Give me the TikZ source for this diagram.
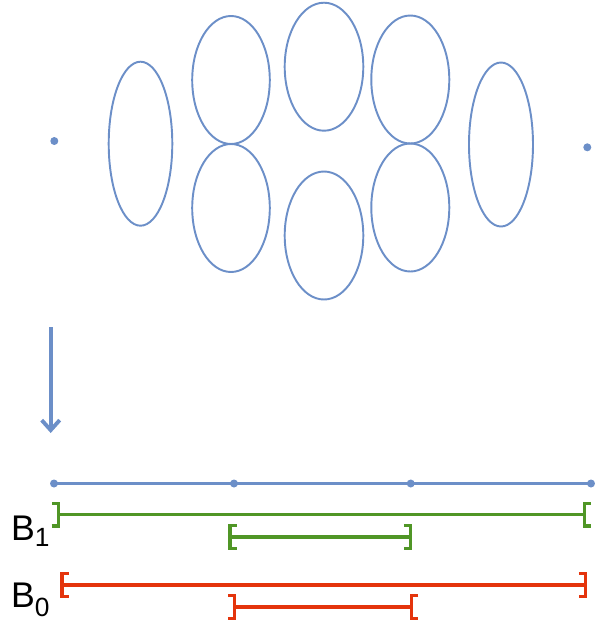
\documentclass[tikz,border=0pt]{standalone}
\usepackage{fontspec}
\setmainfont{Liberation Sans}
\usetikzlibrary{arrows.meta}

\definecolor{ovalblue}{RGB}{108,143,200}
\definecolor{intgreen}{RGB}{80,150,38}
\definecolor{intred}{RGB}{228,52,12}

\begin{document}
\begin{tikzpicture}[x=0.02cm,y=-0.02cm,
    oval/.style={ovalblue,line width=1.1pt},
    dot/.style={circle,fill=ovalblue,inner sep=0pt,minimum size=0.16cm},
    seg/.style={line width=1.8pt},
    closedint/.style={seg,{Bracket[length=0.13cm,width=0.52cm]}-{Bracket[length=0.13cm,width=0.52cm]}},
    openint/.style={seg,{Bracket[length=0.13cm,width=0.52cm,reversed]}-{Bracket[length=0.13cm,width=0.52cm,reversed]}},
    lbl/.style={inner sep=0pt,anchor=base west,font=\fontsize{20.3pt}{24pt}\selectfont}]
  \useasboundingbox (0,0) rectangle (600,627);

  % Outer points
  \node[dot] (p0) at (54.3,141) {};
  \node[dot] (p1) at (587.3,147.3) {};

  % Ellipses
  \draw[oval] (140.5,143.7) ellipse[x radius=31.8,y radius=82];
  \draw[oval] (231,80) ellipse[x radius=38.8,y radius=64];
  \draw[oval] (231,208) ellipse[x radius=38.8,y radius=64];
  \draw[oval] (324,66.7) ellipse[x radius=39.3,y radius=64];
  \draw[oval] (324,235.5) ellipse[x radius=39.3,y radius=64];
  \draw[oval] (410.3,79.5) ellipse[x radius=39,y radius=64];
  \draw[oval] (410.3,207.5) ellipse[x radius=39,y radius=64];
  \draw[oval] (501,144.5) ellipse[x radius=32,y radius=82];

  % Projection arrow
  \coordinate (top) at (50.7,327);
  \coordinate (bot) at (50.7,433);
  \draw[ovalblue,line width=2.2pt,-{Straight Barb[length=0.2cm,width=0.36cm]}] (top) -- (bot);

  % Line with points
  \node[dot] (d1) at (54,483.5) {};
  \node[dot] (d2) at (234,483.5) {};
  \node[dot] (d3) at (410.7,483.5) {};
  \node[dot] (d4) at (591,483.5) {};
  \draw[ovalblue,line width=1.8pt] (d1.center) -- (d2.center) -- (d3.center) -- (d4.center);

  % B_1 intervals
  \coordinate (g1) at (51.7,514.5);
  \coordinate (g2) at (590.7,514.5);
  \coordinate (g3) at (228.5,537);
  \coordinate (g4) at (412,537);
  \draw[intgreen,openint] (g1) -- (g2);
  \draw[intgreen,closedint] (g3) -- (g4);

  % B_0 intervals
  \coordinate (r1) at (60.5,585);
  \coordinate (r2) at (587,585);
  \coordinate (r3) at (228,607);
  \coordinate (r4) at (418.3,607);
  \draw[intred,closedint] (r1) -- (r2);
  \draw[intred,openint] (r3) -- (r4);

  % Labels
  \node[lbl] (b1) at (10.7,540) {B\raisebox{-0.134cm}{\fontsize{15pt}{15pt}\selectfont 1}};
  \node[lbl] (b0) at (10.7,607.7) {B\raisebox{-0.18cm}{\fontsize{15pt}{15pt}\selectfont 0}};
\end{tikzpicture}
\end{document}
